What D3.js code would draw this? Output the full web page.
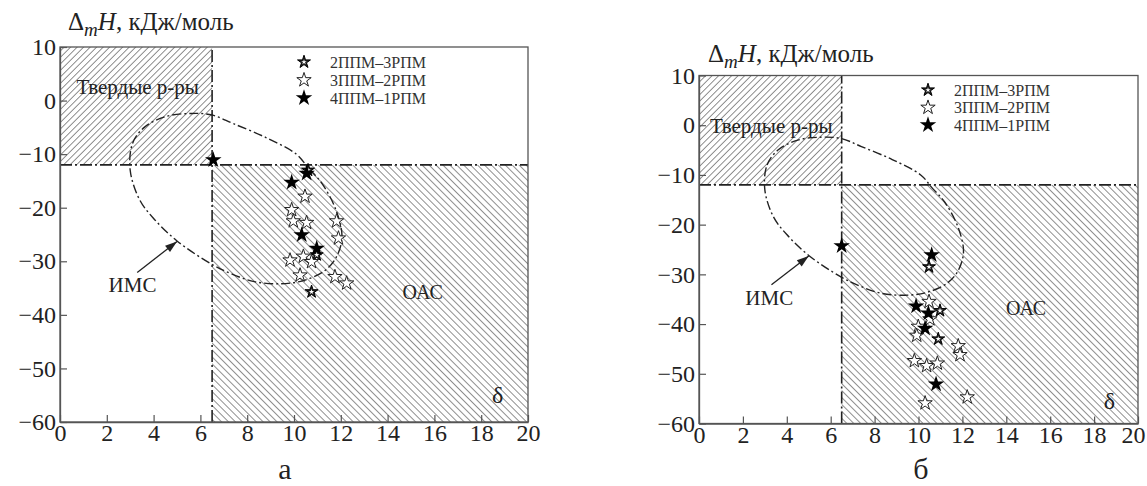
<!DOCTYPE html>
<html>
<head>
<meta charset="utf-8">
<script src="https://cdn.jsdelivr.net/npm/d3@7"></script>
<style>
  body { margin: 0; background: #fff; }
  svg { display: block; font-family: "Liberation Serif", "DejaVu Serif", serif; }
</style>
</head>
<body>
<div id="chart"></div>
<script>
// axis ticks
const xTicks = [0, 2, 4, 6, 8, 10, 12, 14, 16, 18, 20];
const yTicks = [-60, -50, -40, -30, -20, -10, 0, 10];

const seriesNames = ['2ППМ–3РПМ', '3ППМ–2РПМ', '4ППМ–1РПМ'];

// boundaries: δ = 6.5, ΔmH = -12 kJ/mol
const deltaCrit = 6.5;
const enthalpyCrit = -12;

// ИМС contour (δ, ΔmH)
const imsContour = [
  [3.0, -13], [3.1, -8], [3.6, -5], [4.5, -3], [5.6, -2.4], [6.5, -2.7],
  [7.4, -4.3], [8.8, -6.9], [10.1, -10], [10.6, -12.5], [11.2, -15.5],
  [11.8, -20.5], [12.05, -25.5], [11.8, -29.3], [11.3, -31.8], [10.4, -33.6],
  [9.4, -34.2], [8.3, -33.8], [7.3, -32.3], [6.5, -30.6], [5.0, -26.2],
  [4.0, -22], [3.4, -18.5]
];

// panel а
const aSeries1 = [[10.6, -13.0], [10.97, -28.8], [10.75, -35.7]];
const aSeries2 = [[10.47, -17.9], [9.9, -20.4], [9.97, -22.5], [10.54, -22.8], [11.82, -22.5],
  [11.9, -25.7], [10.4, -29.1], [9.83, -29.8], [10.75, -30.1], [10.26, -32.6],
  [11.75, -32.9], [12.25, -34.1]];
const aSeries3 = [[6.55, -11.1], [9.9, -15.3], [10.54, -13.6], [10.33, -25.1], [10.97, -27.6]];

// panel б
const bSeries1 = [[10.48, -28.5], [10.98, -37.3], [10.9, -43.0]];
const bSeries2 = [[10.48, -35.5], [10.52, -39.0], [9.99, -40.5], [9.92, -42.3], [11.81, -44.4],
  [11.89, -46.2], [9.81, -47.4], [10.37, -48.4], [10.86, -47.9], [10.3, -55.9], [12.22, -54.7]];
const bSeries3 = [[6.5, -24.3], [10.6, -26.1], [9.89, -36.4], [10.45, -37.8], [10.3, -40.9], [10.8, -52.1]];

const W = 1147, H = 486;
const svg = d3.select('#chart').append('svg').attr('width', W).attr('height', H);

const defs = svg.append('defs');
function hatch(id, angle, gap) {
  const p = defs.append('pattern')
    .attr('id', id)
    .attr('patternUnits', 'userSpaceOnUse')
    .attr('width', gap).attr('height', gap)
    .attr('patternTransform', 'rotate(' + angle + ')');
  p.append('line')
    .attr('x1', 0).attr('y1', 0).attr('x2', 0).attr('y2', gap)
    .attr('stroke', '#444').attr('stroke-width', 1.2);
}
hatch('hatchUp', 45, 4.6);
hatch('hatchDown', -45, 4.9);

const panels = [
  { id: 'a', left: 60, right: 528, top: 47, bottom: 422, label: 'а', labelX: 285,
    title: [68, 30], solid: [0.7, 1.2], ims: [3.1, -35.8], oac: [15.5, -37], delta: [18.7, -56.5],
    legend: [304, 62, 18], data: [aSeries1, aSeries2, aSeries3] },
  { id: 'b', left: 699, right: 1138, top: 75.5, bottom: 423.5, label: 'б', labelX: 921,
    title: [708, 62], solid: [0.5, -1.6], ims: [3.2, -36.2], oac: [14.9, -38.2], delta: [18.7, -57],
    legend: [928, 90, 17.5], data: [bSeries1, bSeries2, bSeries3] }
];

const starPath = d3.symbol().type(d3.symbolStar);

function drawStar(g, kind, x, y) {
  if (kind === 0) {
    g.append('path').attr('d', starPath.size(52)()).attr('transform', `translate(${x},${y})`)
      .attr('fill', '#222').attr('stroke', '#000').attr('stroke-width', 1);
    g.append('path').attr('d', starPath.size(9)()).attr('transform', `translate(${x},${y})`)
      .attr('fill', '#fff');
  } else if (kind === 1) {
    g.append('path').attr('d', starPath.size(64)()).attr('transform', `translate(${x},${y})`)
      .attr('fill', '#fff').attr('stroke', '#222').attr('stroke-width', 1);
  } else {
    g.append('path').attr('d', starPath.size(85)()).attr('transform', `translate(${x},${y})`)
      .attr('fill', '#000');
  }
}

panels.forEach(p => {
  const x = d3.scaleLinear().domain([0, 20]).range([p.left, p.right]);
  const y = d3.scaleLinear().domain([-60, 10]).range([p.bottom, p.top]);
  const g = svg.append('g');

  defs.append('clipPath').attr('id', 'clip' + p.id).append('rect')
    .attr('x', p.left).attr('y', p.top).attr('width', p.right - p.left).attr('height', p.bottom - p.top);

  // hatched regions
  g.append('rect')
    .attr('x', x(0)).attr('y', y(10))
    .attr('width', x(deltaCrit) - x(0)).attr('height', y(enthalpyCrit) - y(10))
    .attr('fill', 'url(#hatchUp)');
  g.append('rect')
    .attr('x', x(deltaCrit)).attr('y', y(enthalpyCrit))
    .attr('width', x(20) - x(deltaCrit)).attr('height', y(-60) - y(enthalpyCrit))
    .attr('fill', 'url(#hatchDown)');

  // region labels
  const lab = (txt, pos, size, anchor) => g.append('text')
    .attr('x', x(pos[0])).attr('y', y(pos[1]))
    .attr('font-size', size).attr('fill', '#222').attr('text-anchor', anchor || 'start')
    .text(txt);
  lab('Твердые р-ры', p.solid, 21);
  lab('ИМС', p.ims, 21, 'middle');
  lab('ОАС', p.oac, 20, 'middle');
  lab('δ', p.delta, 24, 'middle');

  const inner = g.append('g').attr('clip-path', `url(#clip${p.id})`);

  // dash-dot boundaries
  inner.append('line')
    .attr('x1', x(0)).attr('x2', x(20)).attr('y1', y(enthalpyCrit)).attr('y2', y(enthalpyCrit))
    .attr('stroke', '#222').attr('stroke-width', 1.6).attr('stroke-dasharray', '12,3,2,3');
  inner.append('line')
    .attr('x1', x(deltaCrit)).attr('x2', x(deltaCrit)).attr('y1', y(-60)).attr('y2', y(10))
    .attr('stroke', '#222').attr('stroke-width', 1.6).attr('stroke-dasharray', '12,3,2,3');

  // ИМС contour
  inner.append('path')
    .datum(imsContour)
    .attr('d', d3.line().x(d => x(d[0])).y(d => y(d[1])).curve(d3.curveCatmullRomClosed.alpha(0.5)))
    .attr('fill', 'none').attr('stroke', '#222').attr('stroke-width', 1.4)
    .attr('stroke-dasharray', '9,3,2,3');

  // arrow to contour
  const ax0 = x(3.3), ay0 = y(-32.1), ax1 = x(5.0), ay1 = y(-26.3);
  g.append('line').attr('x1', ax0).attr('y1', ay0).attr('x2', ax1).attr('y2', ay1)
    .attr('stroke', '#222').attr('stroke-width', 1.3);
  const ang = Math.atan2(ay1 - ay0, ax1 - ax0);
  const hl = 12, hw = 4;
  const bx = ax1 - hl * Math.cos(ang), by = ay1 - hl * Math.sin(ang);
  g.append('path')
    .attr('d', `M${ax1},${ay1}L${bx - hw * Math.sin(ang)},${by + hw * Math.cos(ang)}L${bx + hw * Math.sin(ang)},${by - hw * Math.cos(ang)}Z`)
    .attr('fill', '#222');

  // points
  const pts = inner.append('g');
  p.data.forEach((arr, k) => {
    arr.forEach(d => drawStar(pts, k, x(d[0]), y(d[1])));
  });

  // frame
  g.append('rect')
    .attr('x', p.left).attr('y', p.top).attr('width', p.right - p.left).attr('height', p.bottom - p.top)
    .attr('fill', 'none').attr('stroke', '#555').attr('stroke-width', 1.3);

  // axes
  const xa = g.append('g').attr('transform', `translate(0,${p.bottom})`)
    .call(d3.axisBottom(x).tickValues(xTicks).tickFormat(d3.format('d')).tickSizeInner(-7).tickSizeOuter(0).tickPadding(2));
  const ya = g.append('g').attr('transform', `translate(${p.left},0)`)
    .call(d3.axisLeft(y).tickValues(yTicks).tickSizeInner(-7).tickSizeOuter(0).tickPadding(4));
  [xa, ya].forEach(a => {
    a.attr('font-size', 24).attr('font-family', '"Liberation Serif", serif');
    a.select('.domain').attr('stroke', '#555').attr('stroke-width', 1.3);
    a.selectAll('.tick text').attr('fill', '#222');
    a.selectAll('.tick line').attr('stroke', '#555').attr('stroke-width', 1.2);
  });
  // keep the last x label inside the page
  if (x(20) + 13 > W) {
    xa.selectAll('.tick text').filter(d => d === 20)
      .attr('text-anchor', 'end').attr('dx', W - 2 - x(20));
  }

  // title
  const t = g.append('text').attr('x', p.title[0]).attr('y', p.title[1])
    .attr('font-size', 25).attr('fill', '#222');
  t.append('tspan').text('Δ');
  t.append('tspan').attr('font-style', 'italic').attr('font-size', 19).attr('dy', 6).text('m');
  t.append('tspan').attr('font-style', 'italic').attr('dy', -6).text('H');
  t.append('tspan').text(', кДж/моль');

  // legend
  const [lx, ly, ls] = p.legend;
  seriesNames.forEach((name, k) => {
    drawStar(g, k, lx, ly + k * ls);
    g.append('text').attr('x', lx + 26).attr('y', ly + k * ls + 5.5)
      .attr('font-size', 16).attr('fill', '#333').text(name);
  });

  // panel label
  g.append('text').attr('x', p.labelX).attr('y', 479).attr('text-anchor', 'middle')
    .attr('font-size', 30).attr('fill', '#222').text(p.label);
});
</script>
</body>
</html>
